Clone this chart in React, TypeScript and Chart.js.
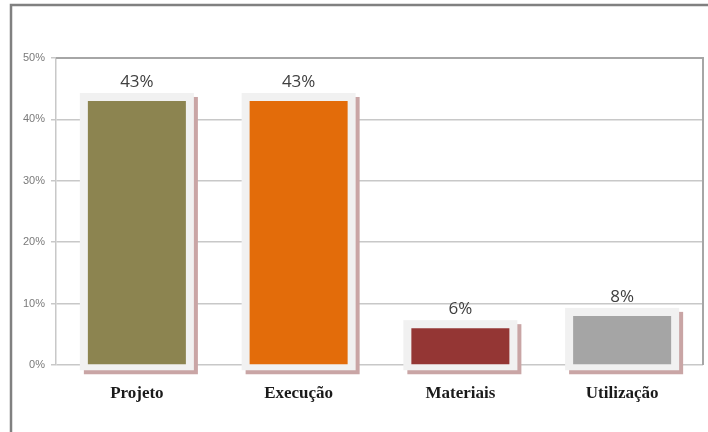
import React, { useEffect, useRef } from "react";
import { Chart, registerables } from "chart.js";

Chart.register(...registerables);

const categories = ["Projeto", "Execução", "Materiais", "Utilização"];
const values = [43, 43, 6, 8];
const valueLabels = ["43%", "43%", "6%", "8%"];
const barColors = ["#8c8450", "#e36c0a", "#943634", "#a5a5a5"];
const yTicks = [0, 10, 20, 30, 40, 50];

const framePlugin = {
  id: "frames",
  beforeDraw(chart: any) {
    const ctx = chart.ctx;
    ctx.save();
    ctx.fillStyle = "#ffffff";
    ctx.fillRect(0, 0, chart.width, chart.height);
    ctx.strokeStyle = "#808080";
    ctx.lineWidth = 2.5;
    ctx.beginPath();
    ctx.moveTo(11, chart.height);
    ctx.lineTo(11, 5);
    ctx.lineTo(chart.width, 5);
    ctx.stroke();
    ctx.restore();
  },
  beforeDatasetsDraw(chart: any) {
    const ctx = chart.ctx;
    const ca = chart.chartArea;
    ctx.save();
    ctx.strokeStyle = "#a6a6a6";
    ctx.lineWidth = 2;
    ctx.beginPath();
    ctx.moveTo(ca.left, ca.top);
    ctx.lineTo(ca.right, ca.top);
    ctx.lineTo(ca.right, ca.bottom);
    ctx.stroke();
    const meta = chart.getDatasetMeta(0);
    meta.data.forEach((el: any) => {
      const p = el.getProps(["x", "y", "base", "width"], true);
      const left = p.x - p.width / 2 - 8;
      const right = p.x + p.width / 2 + 8;
      const top = p.y - 8;
      const bottom = p.base + 6;
      ctx.fillStyle = "#c9a5a5";
      ctx.fillRect(left + 4, top + 4, right - left, bottom - top);
      ctx.fillStyle = "#f1f1f1";
      ctx.fillRect(left, top, right - left, bottom - top);
    });
    ctx.restore();
  },
  afterDatasetsDraw(chart: any) {
    const ctx = chart.ctx;
    const meta = chart.getDatasetMeta(0);
    ctx.save();
    ctx.fillStyle = "#404040";
    ctx.font = "17px 'Open Sans', 'DejaVu Sans', sans-serif";
    ctx.textAlign = "center";
    ctx.textBaseline = "middle";
    meta.data.forEach((el: any, i: number) => {
      const p = el.getProps(["x", "y"], true);
      ctx.fillText(valueLabels[i], p.x, p.y - 19);
    });
    ctx.restore();
  },
};

export default function App() {
  const ref = useRef<HTMLCanvasElement | null>(null);
  useEffect(() => {
    if (!ref.current) return;
    const chart = new Chart(ref.current, {
      type: "bar",
      data: {
        labels: categories,
        datasets: [
          {
            data: values,
            backgroundColor: barColors,
            borderWidth: 0,
            barPercentage: 0.606,
            categoryPercentage: 1,
          },
        ],
      },
      options: {
        responsive: false,
        animation: false,
        layout: { padding: { left: 0, top: 58, right: 5, bottom: 0 } },
        plugins: { legend: { display: false }, tooltip: { enabled: false } },
        scales: {
          x: {
            grid: { display: false },
            border: { display: false },
            ticks: {
              padding: 10,
              color: "#1a1a1a",
              font: { family: "'Liberation Serif', 'DejaVu Serif', serif", size: 17, weight: "bold" },
            },
            afterFit: (s: any) => {
              s.height = 67;
            },
          },
          y: {
            min: 0,
            max: 50,
            afterBuildTicks: (s: any) => {
              s.ticks = yTicks.map((v) => ({ value: v }));
            },
            grid: { color: "#c8c8c8", lineWidth: 1.5, tickLength: 5 },
            border: { display: true, color: "#c8c8c8", width: 1.5 },
            ticks: {
              padding: 6,
              color: "#7a7a7a",
              font: { family: "'Liberation Sans', 'DejaVu Sans', sans-serif", size: 11 },
              callback: (v: any) => v + "%",
            },
            afterFit: (s: any) => {
              s.width = 56;
            },
          },
        },
      },
      plugins: [framePlugin],
    } as any);
    return () => chart.destroy();
  }, []);
  return (
    <div style={{ position: "fixed", left: 0, top: 0, width: 708, height: 432 }}>
      <canvas ref={ref} width={708} height={432} style={{ display: "block" }} />
    </div>
  );
}
